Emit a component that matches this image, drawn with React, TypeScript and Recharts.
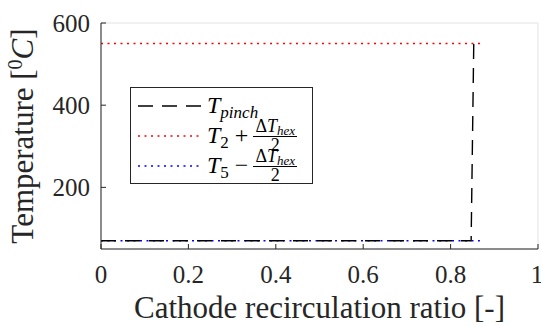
import {
  LineChart,
  Line,
  XAxis,
  YAxis,
  CartesianGrid,
  Legend,
} from "recharts";

// x positions / temperatures
const pinchX = [0, 0.847, 0.853, 0.872];
const pinchT = [70, 70, 550, 550];
const hotX = [0, 0.87];
const hotT = [550, 550];
const coldX = [0, 0.867];
const coldT = [70, 70];

const xTicks = [0, 0.2, 0.4, 0.6, 0.8, 1];
const yTicks = [200, 400, 600];

const pinchData = pinchX.map((x, i) => ({ x, t: pinchT[i] }));
const hotData = hotX.map((x, i) => ({ x, t: hotT[i] }));
const coldData = coldX.map((x, i) => ({ x, t: coldT[i] }));

const font = "'Liberation Serif', serif";
const axisColor = "#262626";
const pinchDash = "15 9";
const dotDash = "2 4.5";

const Frac = () => (
  <span
    style={{
      display: "inline-flex",
      flexDirection: "column",
      alignItems: "center",
      fontSize: 18,
      lineHeight: "15px",
      marginLeft: 5,
    }}
  >
    <span style={{ borderBottom: "1px solid #000", padding: "0 2px 1px 2px" }}>
      Δ<i>T</i>
      <i style={{ fontSize: 13, position: "relative", top: 3 }}>hex</i>
    </span>
    <span style={{ paddingTop: 1 }}>2</span>
  </span>
);

function renderLegend() {
  const rows = [
    {
      key: "pinch",
      dash: pinchDash,
      color: "#000",
      label: (
        <span>
          <i>T</i>
          <i style={{ fontSize: 17, position: "relative", top: 5 }}>pinch</i>
        </span>
      ),
    },
    {
      key: "hot",
      dash: dotDash,
      color: "#ff0000",
      label: (
        <span>
          <i>T</i>
          <span style={{ fontSize: 17, position: "relative", top: 5 }}>2</span>
          <span style={{ marginLeft: 6 }}>+</span>
        </span>
      ),
      frac: true,
    },
    {
      key: "cold",
      dash: dotDash,
      color: "#0000ff",
      label: (
        <span>
          <i>T</i>
          <span style={{ fontSize: 17, position: "relative", top: 5 }}>5</span>
          <span style={{ marginLeft: 6 }}>−</span>
        </span>
      ),
      frac: true,
    },
  ];
  return (
    <div
      style={{
        width: 183,
        height: 97,
        border: "1px solid #262626",
        background: "#fff",
        fontFamily: font,
        fontSize: 24,
        color: "#000",
        boxSizing: "border-box",
        paddingTop: 3,
      }}
    >
      {rows.map((r) => (
        <div
          key={r.key}
          style={{
            display: "flex",
            alignItems: "center",
            height: 30,
            whiteSpace: "nowrap",
            lineHeight: "24px",
          }}
        >
          <svg width={76} height={10} style={{ flex: "none" }}>
            <line
              x1={7}
              y1={5}
              x2={70}
              y2={5}
              stroke={r.color}
              strokeWidth={1.4}
              strokeDasharray={r.dash}
            />
          </svg>
          {r.label}
          {r.frac ? <Frac /> : null}
        </div>
      ))}
    </div>
  );
}

const XTick = (props: any) => {
  const { x, payload } = props;
  return (
    <text x={x} y={283} textAnchor="middle" fontFamily={font} fontSize={25} fill="#262626">
      {payload.value}
    </text>
  );
};

const YTick = (props: any) => {
  const { y, payload } = props;
  return (
    <text x={90} y={y + 9} textAnchor="end" fontFamily={font} fontSize={25} fill="#262626">
      {payload.value}
    </text>
  );
};

export default function App() {
  return (
    <div style={{ position: "absolute", left: 0, top: 0 }}>
      <LineChart
        width={541}
        height={326}
        margin={{ top: 23, right: 3, bottom: 0, left: 0 }}
        style={{ background: "#fff" }}
      >
        <CartesianGrid stroke="#e3e3e3" strokeWidth={1} />
        <XAxis
          xAxisId="b"
          dataKey="x"
          type="number"
          domain={[0, 1]}
          ticks={xTicks}
          height={77}
          stroke={axisColor}
          tickSize={-5}
          tick={<XTick />}
          label={(p: any) => {
            const vb = p.viewBox;
            return (
              <text
                x={vb.x + vb.width / 2}
                y={318}
                textAnchor="middle"
                fontFamily={font}
                fontSize={31}
                fill="#262626"
              >
                Cathode recirculation ratio [-]
              </text>
            );
          }}
          allowDuplicatedCategory={false}
        />
        <XAxis
          xAxisId="t"
          orientation="top"
          dataKey="x"
          type="number"
          domain={[0, 1]}
          ticks={xTicks}
          height={0}
          stroke={axisColor}
          tickSize={-5}
          tick={false}
        />
        <YAxis
          yAxisId="l"
          dataKey="t"
          type="number"
          domain={[50, 600]}
          ticks={yTicks}
          width={101}
          stroke={axisColor}
          tickSize={-5}
          tick={<YTick />}
          label={(p: any) => {
            const vb = p.viewBox;
            const cy = vb.y + vb.height / 2;
            return (
              <text
                x={33}
                y={cy}
                transform={`rotate(-90 33 ${cy})`}
                textAnchor="middle"
                fontFamily={font}
                fontSize={31}
                fill="#262626"
              >
                Temperature [
                <tspan baselineShift="super" fontSize={20}>0</tspan>
                <tspan fontStyle="italic">C</tspan>]
              </text>
            );
          }}
        />
        <YAxis
          yAxisId="r"
          orientation="right"
          dataKey="t"
          type="number"
          domain={[50, 600]}
          ticks={yTicks}
          width={0}
          stroke={axisColor}
          tickSize={-5}
          tick={false}
        />
        <Legend
          layout="horizontal"
          verticalAlign="middle"
          align="center"
          content={renderLegend}
          wrapperStyle={{ left: 130, top: 87, width: 183, height: 97 }}
        />
        <Line
          xAxisId="b"
          yAxisId="l"
          data={hotData}
          dataKey="t"
          stroke="#ff0000"
          strokeWidth={1.4}
          strokeDasharray={dotDash}
          dot={false}
          isAnimationActive={false}
        />
        <Line
          xAxisId="b"
          yAxisId="l"
          data={coldData}
          dataKey="t"
          stroke="#0000ff"
          strokeWidth={1.4}
          strokeDasharray={dotDash}
          dot={false}
          isAnimationActive={false}
        />
        <Line
          xAxisId="b"
          yAxisId="l"
          data={pinchData}
          dataKey="t"
          stroke="#000"
          strokeWidth={1.4}
          strokeDasharray={pinchDash}
          dot={false}
          isAnimationActive={false}
        />
      </LineChart>
    </div>
  );
}
